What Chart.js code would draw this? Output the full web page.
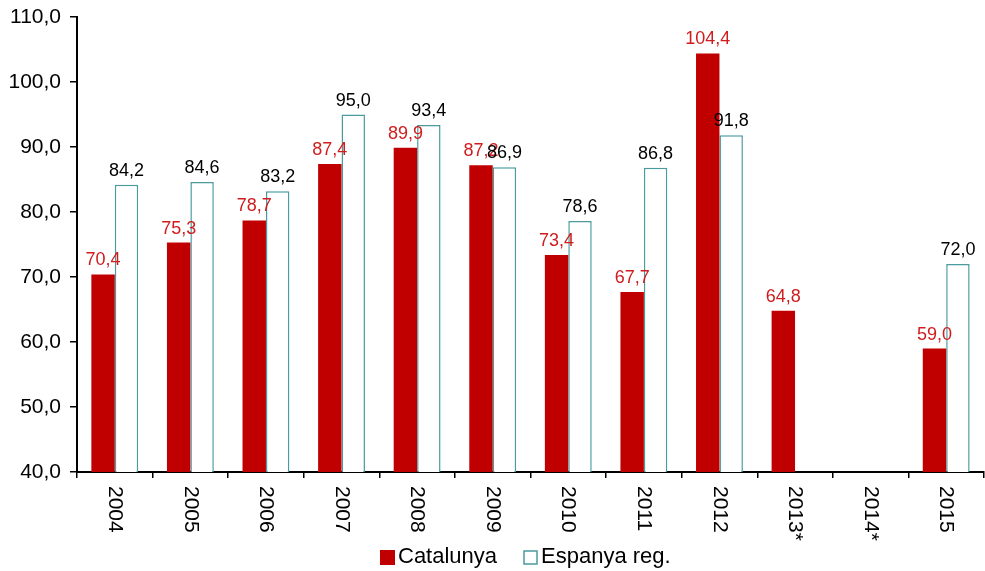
<!DOCTYPE html>
<html>
<head>
<meta charset="utf-8">
<script src="https://cdn.jsdelivr.net/npm/chart.js@4"></script>
<style>
html,body{margin:0;padding:0;background:#fff;}
#wrap{width:985px;height:571px;position:relative;}
</style>
</head>
<body>
<div id="wrap"><canvas id="c" width="985" height="571"></canvas></div>
<script>
const categories = ['2004','2005','2006','2007','2008','2009','2010','2011','2012','2013*','2014*','2015'];
const catalunya = [70.4, 75.3, 78.7, 87.4, 89.9, 87.2, 73.4, 67.7, 104.4, 64.8, null, 59.0];
const espanya = [84.2, 84.6, 83.2, 95.0, 93.4, 86.9, 78.6, 86.8, 91.8, null, null, 72.0];
const seriesNames = ['Catalunya', 'Espanya reg.'];
const yMin = 40, yMax = 110, yStep = 10;

const FONT = '"Liberation Sans", Arial, sans-serif';
const fmt = v => v.toFixed(1).replace('.', ',');

const valueLabels = {
  id: 'valueLabels',
  afterDatasetsDraw(chart) {
    const ctx = chart.ctx;
    ctx.save();
    ctx.font = '18px ' + FONT;
    ctx.textAlign = 'center';
    ctx.textBaseline = 'alphabetic';
    chart.data.datasets.forEach((ds, di) => {
      const meta = chart.getDatasetMeta(di);
      ctx.fillStyle = di === 0 ? '#d01c1c' : '#000';
      meta.data.forEach((el, i) => {
        const v = ds.data[i];
        if (v === null || v === undefined) return;
        ctx.fillText(fmt(v), el.x, el.y - 9);
      });
    });
    ctx.restore();
  }
};

const xLabels = {
  id: 'xLabels',
  afterDraw(chart) {
    const ctx = chart.ctx;
    const xs = chart.scales.x;
    ctx.save();
    ctx.font = '21px ' + FONT;
    ctx.fillStyle = '#000';
    ctx.textAlign = 'left';
    ctx.textBaseline = 'middle';
    chart.data.labels.forEach((lab, i) => {
      const x = xs.getPixelForValue(i);
      ctx.save();
      ctx.translate(x, chart.chartArea.bottom + 14);
      ctx.rotate(Math.PI / 2);
      ctx.fillText(lab, 0, 0);
      ctx.restore();
    });
    ctx.restore();
  }
};

const customLegend = {
  id: 'customLegend',
  afterDraw(chart) {
    const ctx = chart.ctx;
    ctx.save();
    ctx.font = '22px ' + FONT;
    ctx.textBaseline = 'middle';
    ctx.textAlign = 'left';
    const cy = 557;
    const ds0 = chart.data.datasets[0];
    ctx.fillStyle = ds0.backgroundColor;
    ctx.fillRect(380, cy - 7, 15, 15);
    ctx.fillStyle = '#000';
    ctx.fillText(ds0.label, 398, cy);
    const ds1 = chart.data.datasets[1];
    ctx.fillStyle = '#fff';
    ctx.fillRect(524, cy - 6, 13, 13);
    ctx.strokeStyle = ds1.borderColor;
    ctx.lineWidth = 1.5;
    ctx.strokeRect(524, cy - 6, 13, 13);
    ctx.fillStyle = '#000';
    ctx.fillText(ds1.label, 541, cy);
    ctx.restore();
  }
};

new Chart(document.getElementById('c'), {
  type: 'bar',
  data: {
    labels: categories,
    datasets: [
      { label: seriesNames[0], data: catalunya, backgroundColor: '#c00000', borderWidth: 0 },
      { label: seriesNames[1], data: espanya, backgroundColor: '#ffffff', borderColor: '#4a9a9e', borderWidth: 1.5 }
    ]
  },
  options: {
    responsive: false,
    animation: false,
    devicePixelRatio: 1,
    layout: { padding: { top: 17, right: 1, bottom: 0, left: 0 } },
    plugins: { legend: { display: false }, tooltip: { enabled: false } },
    datasets: { bar: { categoryPercentage: 0.62, barPercentage: 1 } },
    scales: {
      x: {
        ticks: { display: false },
        grid: { display: true, drawOnChartArea: false, drawTicks: true, tickLength: 6, color: '#000', lineWidth: 1.5, offset: true },
        border: { display: true, color: '#000', width: 2 },
        afterFit(s) { s.height = 99; s.paddingLeft = 0; s.paddingRight = 0; }
      },
      y: {
        min: yMin, max: yMax,
        ticks: { stepSize: yStep, callback: v => fmt(v), font: { size: 21, family: FONT }, color: '#000', padding: 9 },
        grid: { display: true, drawOnChartArea: false, drawTicks: true, tickLength: 7, color: '#000', lineWidth: 1.5 },
        border: { display: true, color: '#000', width: 2 },
        afterFit(s) { s.width = 77; s.paddingTop = 0; s.paddingBottom = 0; }
      }
    }
  },
  plugins: [valueLabels, xLabels, customLegend]
});
</script>
</body>
</html>
